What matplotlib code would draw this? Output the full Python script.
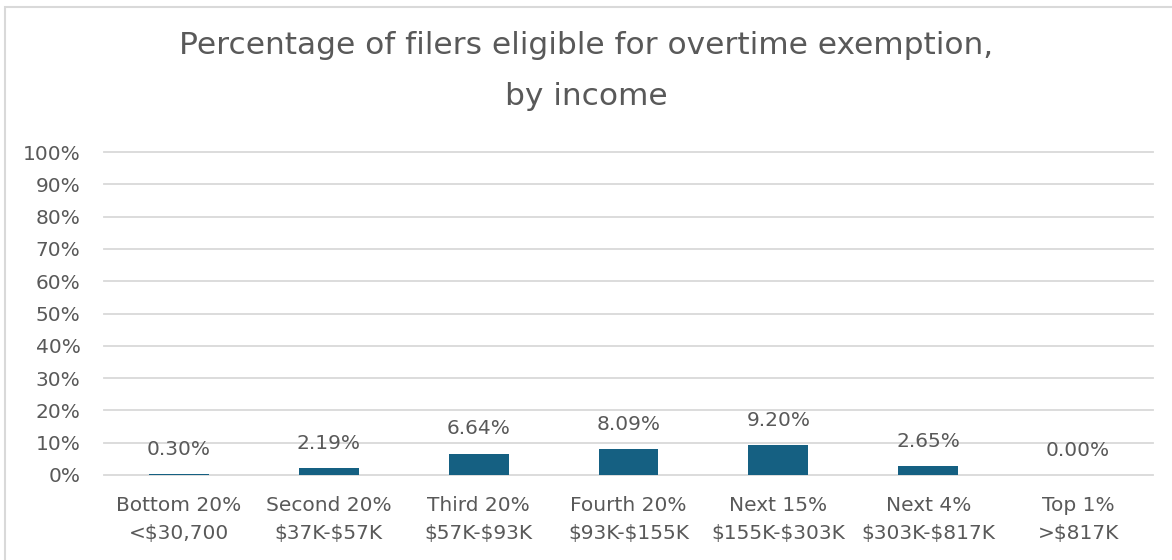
import matplotlib
matplotlib.use("Agg")
import matplotlib.pyplot as plt
from matplotlib.patches import Rectangle
from matplotlib.ticker import PercentFormatter

plt.rcParams["text.parse_math"] = False

categories = ["Bottom 20%\n<$30,700", "Second 20%\n$37K-$57K", "Third 20%\n$57K-$93K",
              "Fourth 20%\n$93K-$155K", "Next 15%\n$155K-$303K", "Next 4%\n$303K-$817K",
              "Top 1%\n>$817K"]
values = [0.30, 2.19, 6.64, 8.09, 9.20, 2.65, 0.00]
yticks = [0, 10, 20, 30, 40, 50, 60, 70, 80, 90, 100]
title = "Percentage of filers eligible for overtime exemption,\nby income"

W, H = 1172, 560
fig = plt.figure(figsize=(W / 100, H / 100), dpi=100)
fig.patch.set_facecolor("white")

txt = "#595959"
grid = "#d9d9d9"
bar_color = "#156082"

# chart border
fig.patches.append(Rectangle((5 / W, -0.1), 1.2, (560 - 7) / H + 0.1, transform=fig.transFigure,
                             fill=False, edgecolor=grid, linewidth=1.5))

ax = fig.add_axes([104 / W, (H - 475) / H, (1153 - 104) / W, (475 - 152) / H])
x = list(range(len(categories)))
ax.bar(x, values, width=0.4, color=bar_color, zorder=3)
ax.set_xlim(-0.5, len(categories) - 0.5)
ax.set_ylim(0, 100)
ax.set_yticks(yticks)
ax.yaxis.set_major_formatter(PercentFormatter(decimals=0))
ax.set_xticks(x)
ax.set_xticklabels(categories, linespacing=1.6)
for s in ax.spines.values():
    s.set_visible(False)
ax.grid(axis="y", color=grid, linewidth=1.3, zorder=0)
for gl in ax.get_ygridlines():
    gl.set_clip_on(False)
ax.tick_params(axis="both", length=0, colors=txt, labelsize=14.5)
ax.tick_params(axis="y", pad=17)
ax.tick_params(axis="x", pad=15)

for xi, v in zip(x, values):
    ax.annotate(f"{v:.2f}%", (xi, v), xytext=(0, 11), textcoords="offset points",
                ha="center", va="bottom", fontsize=14.5, color=txt)

fig.text(0.5, (H - 71) / H, title, ha="center", va="center",
         fontsize=22.5, color=txt, linespacing=1.95)

fig.savefig("out.png", dpi=100)
